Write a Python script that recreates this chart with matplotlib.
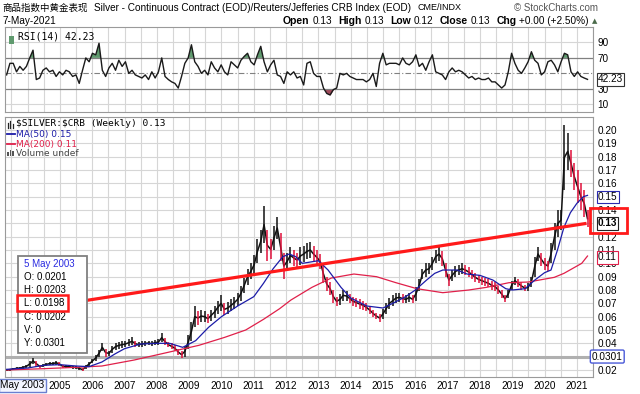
import numpy as np
import matplotlib
matplotlib.use('Agg')
from matplotlib import pyplot as plt
from matplotlib.patches import Rectangle
from matplotlib.lines import Line2D

plt.rcParams['font.family'] = ['Liberation Sans', 'DejaVu Sans']

W, H = 640, 394

# --- data --------------------------------------------------------------------
start_year, end_year = 2003.35, 2021.33

price_lo = [.0195, .0195, .0200, .0205, .0205, .0210, .0215, .0225, .0245, .0225,
            .0215, .0220, .0230, .0235, .0235, .0240, .0230, .0215, .0215, .0215,
            .0210, .0210, .0200, .0190, .0210, .0230, .0250, .0270, .0300, .0340,
            .0300, .0305, .0330, .0350, .0360, .0365, .0370, .0380, .0385, .0375,
            .0370, .0375, .0380, .0385, .0380, .0385, .0390, .0410, .0385, .0370,
            .0355, .0340, .0310, .0290, .0300, .0360, .0420, .0520, .0540, .0560,
            .0560, .0550, .0570, .0590, .0620, .0640, .0610, .0620, .0640, .0660,
            .0680, .0720, .0780, .0840, .0880, .0920, .1000, .1080, .1150, .1020,
            .1030, .1100, .1180, .1020, .0880, .0950, .1000, .0980, .0970, .0990,
            .1010, .1030, .1040, .1010, .0990, .0960, .0850, .0790, .0760, .0700,
            .0680, .0690, .0720, .0720, .0700, .0680, .0670, .0660, .0650, .0640,
            .0620, .0600, .0580, .0560, .0580, .0620, .0660, .0680, .0700, .0710,
            .0700, .0700, .0710, .0700, .0720, .0790, .0880, .0900, .0920, .0950,
            .1000, .1020, .0980, .0900, .0830, .0870, .0900, .0910, .0920, .0910,
            .0900, .0880, .0860, .0850, .0840, .0830, .0820, .0800, .0790, .0770,
            .0740, .0710, .0740, .0800, .0840, .0820, .0800, .0790, .0790, .0820,
            .0900, .1020, .0980, .0950, .0940, .1000, .1100, .1200, .1250, .1550,
            .1700, .1650, .1550, .1450, .1400, .1350, .1270]
price_hi = [.0205, .0210, .0215, .0220, .0225, .0230, .0240, .0265, .0290, .0270,
            .0240, .0245, .0255, .0260, .0260, .0270, .0260, .0240, .0235, .0235,
            .0230, .0230, .0225, .0215, .0240, .0260, .0285, .0310, .0350, .0400,
            .0360, .0345, .0380, .0400, .0410, .0415, .0420, .0430, .0445, .0420,
            .0410, .0415, .0420, .0420, .0415, .0425, .0430, .0475, .0440, .0410,
            .0400, .0385, .0360, .0340, .0380, .0460, .0560, .0680, .0640, .0650,
            .0640, .0620, .0650, .0680, .0720, .0760, .0700, .0710, .0730, .0750,
            .0780, .0830, .0890, .0960, .1000, .1060, .1180, .1250, .1430, .1250,
            .1180, .1280, .1350, .1230, .1080, .1080, .1120, .1100, .1080, .1120,
            .1130, .1150, .1160, .1130, .1100, .1070, .0990, .0900, .0860, .0800,
            .0750, .0770, .0800, .0790, .0770, .0750, .0740, .0730, .0720, .0700,
            .0680, .0650, .0630, .0620, .0660, .0700, .0740, .0760, .0780, .0780,
            .0770, .0760, .0780, .0760, .0820, .0880, .0960, .1000, .1000, .1050,
            .1100, .1120, .1090, .1000, .0920, .0950, .0980, .0990, .1000, .0990,
            .0970, .0950, .0930, .0910, .0900, .0890, .0880, .0870, .0860, .0830,
            .0800, .0760, .0800, .0870, .0900, .0880, .0860, .0840, .0850, .0900,
            .1050, .1120, .1080, .1040, .1020, .1150, .1300, .1400, .1400, .2040,
            .1980, .1850, .1750, .1700, .1600, .1550, .1400]

rsi = [48, 63, 63, 52, 59, 54, 59, 70, 80, 42, 44, 54, 57, 52, 54, 46, 52, 48, 54, 52,
       46, 48, 37, 54, 70, 65, 76, 74, 89, 54, 46, 57, 63, 54, 67, 59, 65, 50, 54, 48,
       46, 44, 48, 42, 52, 44, 52, 70, 46, 42, 39, 37, 31, 46, 63, 70, 87, 65, 59, 50,
       54, 48, 65, 57, 52, 61, 52, 48, 65, 61, 57, 67, 72, 76, 65, 61, 74, 85, 65, 52,
       61, 67, 48, 46, 37, 52, 48, 52, 44, 46, 35, 63, 65, 50, 46,
       46, 31, 24, 22, 29, 31, 50, 48, 50, 46, 44, 42, 42, 42, 39, 42, 50, 33, 63, 76,
       61, 63, 63, 63, 61, 70, 63, 61, 65, 74, 59, 63, 54, 65, 74, 52, 50, 48, 42, 52,
       57, 52, 54, 52, 48, 44, 46, 42, 44, 42, 42, 44, 39, 39, 35, 31, 35, 52, 76, 63,
       54, 50, 57, 65, 78, 67, 63, 48, 52, 65, 67, 61, 52, 65, 76, 74, 52, 46, 52, 46,
       44, 42.23]

ma50_t = [2003.35, 2004.0, 2004.5, 2005.0, 2005.5, 2005.9, 2006.3, 2006.7, 2007.0, 2007.5,
          2008.0, 2008.4, 2008.8, 2009.2, 2009.6, 2010.0, 2010.5, 2011.0, 2011.3, 2011.6,
          2011.9, 2012.1, 2012.3, 2012.5, 2012.75, 2013.0, 2013.3, 2013.7, 2014.0, 2014.5,
          2015.0, 2015.3, 2015.7, 2016.0, 2016.35, 2016.6, 2016.85, 2017.3, 2017.6, 2018.0,
          2018.4, 2018.8, 2019.0, 2019.4, 2019.7, 2020.0, 2020.2, 2020.4, 2020.6, 2020.8,
          2021.0, 2021.2, 2021.33]
ma50_v = [.0205, .0215, .0235, .0240, .0230, .0225, .0260, .0320, .0360, .0395,
          .0400, .0400, .0370, .0420, .0520, .0600, .0680, .0750, .0850, .0960,
          .1050, .1070, .1050, .1000, .1010, .1020, .0950, .0820, .0740, .0680,
          .0665, .0700, .0750, .0800, .0875, .0925, .0950, .0950, .0920, .0910,
          .0875, .0810, .0800, .0810, .0875, .0930, .0950, .1100, .1270, .1380,
          .1450, .1500, .1510]

ma200_t = [2003.35, 2004.5, 2005.5, 2006.3, 2007.3, 2008.3, 2009.3, 2010.1, 2010.75, 2011.3,
           2011.8, 2012.15, 2012.8, 2013.4, 2014.1, 2014.8, 2015.4, 2016.05, 2016.85, 2017.65,
           2018.2, 2018.9, 2019.5, 2020.3, 2020.6, 2021.15, 2021.33]
ma200_v = [.0200, .0210, .0220, .0230, .0275, .0330, .0385, .0445, .0500, .0580,
           .0660, .0725, .0820, .0890, .0920, .0900, .0855, .0810, .0780, .0800,
           .0820, .0855, .0860, .0895, .0925, .1000, .1055]

trend_t = [2005.28, 2021.30]
trend_v = [0.0702, 0.1300]

prev_close_line = 0.0301
year_labels = list(range(2005, 2022))
price_ticks = [round(0.02 + 0.01 * k, 2) for k in range(19)]
hidden_price_ticks = [0.03, 0.13, 0.15]
rsi_ticks = [10, 30, 70, 90]

bar_t = np.linspace(start_year, end_year, len(price_lo))


def fx(x):
    return x / W


def fy(y):
    return 1 - y / H


def style_axis(ax):
    ax.set_xlim(2003.3, 2021.36)
    ax.set_xticks(range(2004, 2022))
    ax.set_xticks(np.arange(2003.5, 2021.6, 1.0), minor=True)
    ax.grid(True, which='both', axis='x', color='#d6d6d6', lw=0.8)
    ax.tick_params(which='both', length=0)
    for s in ax.spines.values():
        s.set_color('#9a9a9a')
        s.set_linewidth(0.8)
    ax.set_axisbelow(True)


fig = plt.figure(figsize=(6.4, 3.94), dpi=100)
renderer = fig.canvas.get_renderer()

# --- RSI panel ---------------------------------------------------------------
rax = fig.add_axes([fx(5), fy(112), 588 / W, 85 / H])
style_axis(rax)
rax.set_ylim(0, 110)
rax.yaxis.tick_right()
rax.set_yticks(rsi_ticks)
rax.set_yticklabels([str(v) for v in rsi_ticks], fontsize=7.2)
rax.tick_params(axis='y', pad=3)
rax.set_xticklabels([])
for v in [10, 90]:
    rax.axhline(v, color='#d6d6d6', lw=0.8, zorder=0)
for v in [30, 70]:
    rax.axhline(v, color='#808080', lw=0.9)
rax.axhline(50, color='#808080', lw=0.8, ls=(0, (5, 2, 1, 2)))
rsi_arr = np.array(rsi)
rax.fill_between(bar_t, rsi_arr, 70, where=rsi_arr > 70, interpolate=True,
                 color='#5f9a6e', lw=0)
rax.fill_between(bar_t, rsi_arr, 30, where=rsi_arr < 30, interpolate=True,
                 color='#a04a5a', lw=0)
rax.plot(bar_t, rsi_arr, color='#1a1a1a', lw=1.0)
rax.text(1.008, rsi[-1], '42.23', transform=rax.get_yaxis_transform(),
         fontsize=7.2, va='center', ha='left',
         bbox=dict(boxstyle='square,pad=0.12', fc='white', ec='#333333', lw=0.8))
rax.text(0.022, 0.95, 'RSI(14) 42.23', transform=rax.transAxes, fontsize=7,
         family='DejaVu Sans Mono', va='top', ha='left')
rax.add_patch(Rectangle((0.006, 0.80), 0.01, 0.1, transform=rax.transAxes,
                        color='#5f9a6e', lw=0))

# --- price panel -------------------------------------------------------------
ax = fig.add_axes([fx(5), fy(377), 588 / W, 260 / H])
style_axis(ax)
ax.set_ylim(0.01475, 0.2098)
ax.yaxis.tick_right()
ax.set_yticks(price_ticks)
ax.set_yticklabels(['' if v in hidden_price_ticks else '%.2f' % v for v in price_ticks],
                   fontsize=7.2)
ax.tick_params(axis='y', pad=3)
ax.grid(True, axis='y', color='#d6d6d6', lw=0.8)
ax.set_xticklabels([''] + [str(y) for y in year_labels], fontsize=7.2)
ax.tick_params(axis='x', pad=3)

ax.axhline(prev_close_line, color='#b0b0b0', lw=2.2, zorder=1)

mids = (np.array(price_lo) + np.array(price_hi)) / 2
colors = ['#111111' if i == 0 or mids[i] >= mids[i - 1] - 0.0008 else '#e0103a'
          for i in range(len(mids))]
ax.plot(bar_t, mids, color='#111111', lw=1.1, zorder=2)
ax.vlines(bar_t, price_lo, price_hi, colors=colors, lw=1.1, zorder=2)
ax.plot(ma200_t, ma200_v, color='#e0204a', lw=0.9, zorder=3)
ax.plot(ma50_t, ma50_v, color='#1c1ca8', lw=0.9, zorder=3)
ax.plot(trend_t, trend_v, color='#ff1a1a', lw=2.3, zorder=4, clip_on=False,
        solid_capstyle='butt')

ytr = ax.get_yaxis_transform()
ax.text(1.008, 0.15, '0.15', transform=ytr, fontsize=7.2, va='center', ha='left',
        bbox=dict(boxstyle='square,pad=0.12', fc='white', ec='#2a2ab0', lw=0.8))
ax.text(1.008, 0.1045, '0.11', transform=ytr, fontsize=7.2, va='center', ha='left',
        bbox=dict(boxstyle='square,pad=0.12', fc='white', ec='#e0204a', lw=0.8))
ax.text(1.008, 0.13, '0.13', transform=ytr, fontsize=7.2, va='center', ha='left',
        fontweight='bold',
        bbox=dict(boxstyle='square,pad=0.12', fc='white', ec='#222222', lw=0.8))
ax.text(0.998, prev_close_line, '0.0301', transform=ytr, fontsize=7.2,
        va='center', ha='left',
        bbox=dict(boxstyle='round,pad=0.15', fc='white', ec='#4a5ad8', lw=1.0))

# legend in the price panel
fig.text(fx(16), fy(124), r'\$SILVER:\$CRB (Weekly) 0.13', fontsize=6.8,
         family='DejaVu Sans Mono', va='center')
fig.text(fx(16), fy(134), 'MA(50) 0.15', fontsize=6.5, color='#1c1ca8',
         family='DejaVu Sans', va='center')
fig.text(fx(16), fy(144), 'MA(200) 0.11', fontsize=6.5, color='#e0204a',
         family='DejaVu Sans', va='center')
fig.text(fx(16), fy(153), 'Volume undef', fontsize=6.5, color='#444444',
         family='DejaVu Sans', va='center')
fig.add_artist(Line2D([fx(7), fx(15)], [fy(134), fy(134)], color='#1c1ca8', lw=1.3))
fig.add_artist(Line2D([fx(7), fx(15)], [fy(144), fy(144)], color='#e0204a', lw=1.3))
for k, hgt in enumerate([4, 6, 5]):
    fig.add_artist(Rectangle((fx(7 + 2.5 * k), fy(156)), 1.6 / W, hgt / H,
                             color='#555555', lw=0))
for k, hgt in enumerate([5, 7, 4]):
    fig.add_artist(Line2D([fx(7.5 + 2.5 * k)] * 2, [fy(128 - hgt), fy(128)],
                          color='#222222', lw=0.9))

# data window box
fig.add_artist(Rectangle((fx(18), fy(353)), 69 / W, 97 / H, fc='white',
                         ec='#808080', lw=1.3, zorder=5))
info_lines = ['O: 0.0201', 'H: 0.0203', 'L: 0.0198', 'C: 0.0202', 'V: 0', 'Y: 0.0301']
fig.text(fx(24), fy(264), '5 May 2003', fontsize=7, color='#2a2ae0', va='center',
         zorder=6)
for k, line in enumerate(info_lines):
    fig.text(fx(24), fy(277 + 13.2 * k), line, fontsize=7, va='center', zorder=6)
fig.add_artist(Rectangle((fx(17), fy(311)), 51 / W, 16 / H, fc='none',
                         ec='#ff1a1a', lw=1.8, zorder=7))
fig.add_artist(Rectangle((fx(590), fy(233)), 37 / W, 25 / H, fc='none',
                         ec='#ff1a1a', lw=2.0, zorder=7))

# start date tag on the x axis
fig.text(fx(0), fy(385), 'May 2003', fontsize=7.2, va='center', ha='left',
         bbox=dict(boxstyle='square,pad=0.15', fc='#f4f6ff', ec='#6a7fd0', lw=1.0))

# header
fig.text(fx(2), fy(8), '商品指数中黄金表现', fontsize=6.8, va='center',
         family=['Noto Sans CJK SC', 'DejaVu Sans'])
fig.text(fx(94), fy(8), 'Silver - Continuous Contract (EOD)/Reuters/Jefferies CRB Index (EOD)',
         fontsize=7.2, va='center')
fig.text(fx(417), fy(8), 'CME/INDX', fontsize=6.5, va='center')
fig.text(fx(598), fy(8), '© StockCharts.com', fontsize=7, va='center', ha='right',
         color='#555555')
fig.text(fx(3), fy(21), '7-May-2021', fontsize=7.2, va='center')

header_items = [('Open', '0.13'), ('High', '0.13'), ('Low', '0.12'),
                ('Close', '0.13'), ('Chg', '+0.00 (+2.50%)')]
cur = 283
for lab, val in header_items:
    t = fig.text(fx(cur), fy(21), lab, fontsize=7.5, fontweight='bold', va='center')
    cur = t.get_window_extent(renderer).x1 + 3
    t = fig.text(fx(cur), fy(21), val, fontsize=7.2, va='center')
    cur = t.get_window_extent(renderer).x1 + 6
fig.text(fx(cur - 3), fy(21), '▲', fontsize=5, va='center', color='#4a6a4a',
         family='DejaVu Sans')

fig.savefig('out.png', dpi=100)
